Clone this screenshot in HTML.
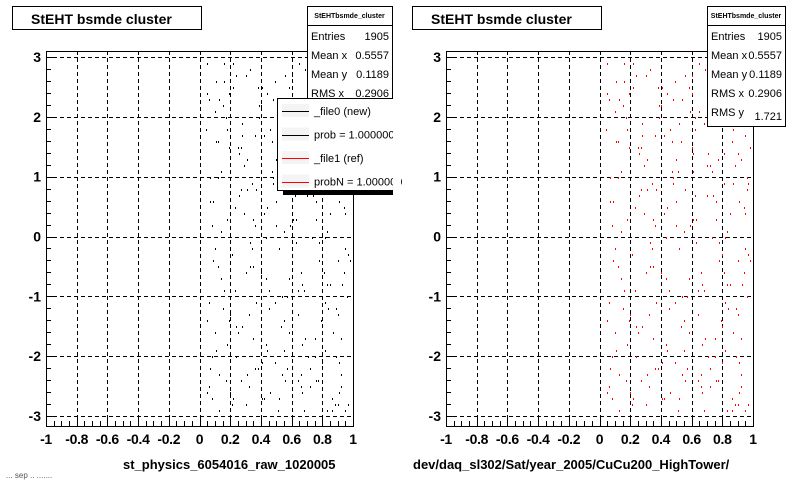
<!DOCTYPE html>
<html><head><meta charset="utf-8"><style>
body{margin:0;background:#fff;width:800px;height:480px;overflow:hidden;font-family:"Liberation Sans",Arial,sans-serif}
svg{display:block}
line,rect{shape-rendering:crispEdges}
</style></head><body>
<svg id="c" width="800" height="480" xmlns="http://www.w3.org/2000/svg"></svg>
<script>
const xTicks=[-1,-0.8,-0.6,-0.4,-0.2,0,0.2,0.4,0.6,0.8,1];
const xTickLabels=["-1","-0.8","-0.6","-0.4","-0.2","0","0.2","0.4","0.6","0.8","1"];
const yTicks=[-3,-2,-1,0,1,2,3];
const yTickLabels=["-3","-2","-1","0","1","2","3"];
const ptX=[0.05,0.08,0.12,0.15,0.18,0.22,0.27,0.31,0.35,0.39,0.43,0.47,0.51,0.55,0.6,0.64,0.68,0.72,0.76,0.8,0.84,0.88,0.92,0.95,0.97,
0.06,0.1,0.14,0.19,0.24,0.29,0.33,0.37,0.42,0.46,0.5,0.54,0.58,0.62,0.66,0.7,0.74,0.78,0.83,0.87,0.9,0.94,0.96,
0.07,0.11,0.16,0.21,0.26,0.3,0.34,0.4,0.44,0.49,0.53,0.57,0.61,0.65,0.69,0.73,0.77,0.82,0.86,0.89,0.93,0.98,
0.05,0.09,0.13,0.17,0.23,0.28,0.32,0.36,0.41,0.45,0.48,0.52,0.56,0.59,0.63,0.67,0.71,0.75,0.79,0.81,0.85,0.91,0.95,
0.06,0.12,0.18,0.25,0.3,0.38,0.44,0.5,0.55,0.62,0.68,0.74,0.8,0.85,0.88,0.92,0.96,
0.08,0.14,0.2,0.27,0.33,0.4,0.46,0.52,0.58,0.64,0.7,0.76,0.82,0.86,0.9,0.94,0.97,
0.07,0.13,0.19,0.24,0.31,0.36,0.43,0.49,0.56,0.61,0.67,0.72,0.78,0.84,0.87,0.91,0.95,
0.1,0.16,0.22,0.29,0.35,0.42,0.48,0.54,0.6,0.66,0.73,0.79,0.83,0.89,0.93,
0.04,0.09,0.15,0.2,0.26,0.32,0.38,0.45,0.51,0.57,0.63,0.69,0.75,0.81,0.86,0.9,0.94,0.98,
0.06,0.11,0.17,0.23,0.28,0.34,0.41,0.47,0.53,0.59,0.65,0.71,0.77,0.83,0.88,0.92,0.96,
0.05,0.1,0.14,0.21,0.27,0.33,0.39,0.44,0.5,0.56,0.62,0.68,0.74,0.8,0.85,0.89,0.93,0.97,
0.07,0.12,0.18,0.24,0.3,0.36,0.42,0.48,0.54,0.6,0.66,0.72,0.78,0.84,0.87,0.91,0.95,
0.08,0.13,0.19,0.25,0.31,0.37,0.43,0.49,0.55,0.61,0.67,0.73,0.79,0.82,0.86,0.9,0.94,0.98,
0.05,0.11,0.16,0.22,0.28,0.35,0.41,0.46,0.52,0.58,0.64,0.7,0.76,0.81,0.85,0.88,0.92,0.96];
const ptY=[2.9,-2.7,1.6,-1.2,0.3,2.5,-2.4,0.8,-0.5,2.2,-1.8,1.1,-2.9,0.1,2.7,-0.9,1.9,-2.2,0.6,-1.5,2.4,-2.8,1.3,-0.2,0.9,
-2.5,2.1,-0.7,1.5,-2.0,0.4,2.8,-1.1,1.7,-2.6,0.2,2.3,-1.6,0.7,-2.3,1.2,2.6,-0.4,-2.9,1.8,-1.3,0.5,2.0,
1.0,-1.9,2.6,-0.3,1.4,-2.8,0.9,-0.6,2.4,-2.1,1.6,-1.0,0.3,2.9,-1.7,1.1,-2.4,0.0,-2.7,2.2,-0.8,1.5,
-1.4,0.6,-2.3,2.0,-0.9,1.7,-2.5,0.2,2.5,-1.2,1.0,-2.7,0.8,2.1,-0.1,-1.8,1.4,-2.0,2.8,-0.6,1.9,-2.6,0.4,
2.3,-0.5,1.8,-1.6,2.7,-2.2,0.5,1.3,-1.4,2.0,-2.9,0.7,-0.3,2.6,1.2,-2.3,-1.0,
-2.0,1.1,-1.3,0.8,-0.1,2.2,-2.6,1.9,-0.7,-2.4,2.5,0.3,-1.9,1.6,-0.4,2.8,-2.8,
0.6,-2.9,2.4,-1.5,1.3,-2.2,0.0,-1.1,2.7,1.4,-0.8,-2.5,2.1,-1.2,0.9,-2.1,1.7,
-0.2,2.9,-2.7,1.2,-1.7,0.4,2.3,-2.3,1.5,-0.6,2.0,-1.4,0.1,-2.0,2.6,
1.8,-0.4,2.2,-2.6,0.7,-1.3,2.5,-0.9,1.1,-2.2,0.3,2.8,-1.7,0.9,-2.9,1.4,-0.6,2.3,
-1.1,2.6,-2.4,0.5,1.9,-0.2,-2.7,1.6,-1.5,0.2,2.1,-2.0,1.3,-0.8,2.7,-2.5,0.8,
2.4,-1.6,0.1,-2.8,1.5,-0.5,2.0,-1.9,0.6,-2.4,1.8,-0.9,2.5,-2.1,0.4,-1.2,2.9,-0.3,
-2.2,1.0,-1.8,2.7,-0.6,1.7,-2.7,0.9,-1.0,2.4,-2.5,1.2,-0.1,2.1,-1.6,0.6,-2.9,
0.2,2.3,-1.4,1.5,-2.3,0.8,-0.7,2.6,-1.9,1.1,-2.6,0.0,2.2,-1.1,1.9,-2.8,0.5,-0.4,
-2.6,1.6,-0.9,2.9,-1.5,0.3,-2.1,1.8,-0.2,2.5,-1.3,0.7,-2.4,1.4,-0.8,2.0,-1.7,1.0];
const S='http://www.w3.org/2000/svg';
const svg=document.getElementById('c');
function mk(tag,attrs,parent){const e=document.createElementNS(S,tag);for(const k in attrs)e.setAttribute(k,attrs[k]);(parent||svg).appendChild(e);return e;}
function txt(s,x,y,size,anchor,bold,parent,color){const t=mk('text',{x:x,y:y,'font-size':size,'text-anchor':anchor||'start','font-weight':bold?'bold':'normal',fill:color||'#000','font-family':'Liberation Sans, Arial, sans-serif'},parent);t.textContent=s;return t;}
function panel(ox,red,xlabel,name){
  const g=mk('g',{});
  
  
  const L=ox+46,R=ox+353,T=51,B=426;
  const sx=v=>L+(v+1)*(R-L)/2;
  const sy=v=>236.5-v*59.83;
  const fr=mk('rect',{x:L+0.5,y:T+0.5,width:R-L,height:B-T,fill:'#fff',stroke:'#000','stroke-width':1},g);
  
  
  xTicks.forEach(v=>{if(v>-1&&v<1){const l=mk('line',{x1:Math.round(sx(v))+0.5,x2:Math.round(sx(v))+0.5,y1:T,y2:B,stroke:'#000','stroke-dasharray':'4,3'},g);}});
  yTicks.forEach(v=>{const l=mk('line',{x1:L,x2:R,y1:Math.round(sy(v))+0.5,y2:Math.round(sy(v))+0.5,stroke:'#000','stroke-dasharray':'4,3'},g);});
  for(let i=0;i<ptX.length;i++){const p=mk('rect',{x:Math.round(sx(ptX[i])),y:Math.round(sy(ptY[i])),width:1,height:2,fill:red?'#f00':'#000'},g);}
  for(let k=0;k<=40;k++){const v=-1+k*0.05;const len=(k%4==0)?10:5;const x=Math.round(sx(v))+0.5;mk('line',{x1:x,x2:x,y1:B,y2:B-len,stroke:'#000'},g);}
  for(let k=-31;k<=31;k++){const v=k*0.1;const y=Math.round(sy(v))+0.5;if(y<T||y>B)continue;const len=(k%10==0)?10:(k%2==0?5:0);if(len)mk('line',{x1:L,x2:L+len,y1:y,y2:y,stroke:'#000'},g);}
  xTicks.forEach((v,i)=>{const t=txt(xTickLabels[i],sx(v),444,14,'middle',true,g);t.setAttribute('letter-spacing','-0.3');});
  yTicks.forEach((v,i)=>{const t=txt(yTickLabels[i],L-5,sy(v)+5,14,'end',true,g);});
  const xl=txt(xlabel,ox+(red?13:123),469,13,'start',true,g);
  
  const tb=mk('rect',{x:ox+12.5,y:6.5,width:189,height:23,fill:'#fff',stroke:'#000'},g);
  
  const tt=txt('StEHT bsmde cluster',ox+31,24,14,'start',true,g);
  
  return g;
}
panel(0,false,'st_physics_6054016_raw_1020005','left-panel');
panel(400,true,'dev/daq_sl302/Sat/year_2005/CuCu200_HighTower/','right-panel');
function stats(x,w,rows,name){
  const g=mk('g',{});
  
  const h=25+rows.length*19;
  mk('rect',{x:x+0.5,y:6.5,width:w,height:h,fill:'#fff',stroke:'#000'},g);
  mk('line',{x1:x,x2:x+w,y1:25.5,y2:25.5,stroke:'#000'},g);
  txt('StEHTbsmde_cluster',x+w/2,18,7,'middle',true,g);
  rows.forEach((r,i)=>{const y=40+i*19;txt(r[0],x+4,y,11,'start',false,g);txt(r[1],x+w-3,y+(r[0]=='RMS y'?4:0),11,'end',false,g);});
}
const statRows=[['Entries','1905'],['Mean x','0.5557'],['Mean y','0.1189'],['RMS x','0.2906'],['RMS y','1.721']];
stats(307,85,statRows,'stats-box-left');
stats(707,78,statRows,'stats-box-right');
const lg=mk('g',{});

mk('rect',{x:283,y:186,width:110,height:9,fill:'#000'},lg);
mk('rect',{x:277.5,y:98.5,width:116,height:92,fill:'#fff',stroke:'#000'},lg);
const legNames=['_file0 (new)','prob = 1.000000','_file1 (ref)','probN = 1.000000'];
const legColors=['#000','#000','#f00','#f00'];
legNames.forEach((n,i)=>{const y=111+i*23.5;
  const e=mk('g',{},lg);
  mk('rect',{x:282,y:y-7,width:27,height:13,fill:'#f4f4f4'},e);
  mk('line',{x1:282,x2:309,y1:Math.round(y)+0.5,y2:Math.round(y)+0.5,stroke:legColors[i],'stroke-width':1},e);
  txt(n,314,y+4,11,'start',false,e);});
mk('rect',{x:393,y:96,width:8,height:102,fill:'#fff'});
const ft=txt('... sep .. .......',6,478,8,'start',false,svg,'#555');

</script>
</body></html>
